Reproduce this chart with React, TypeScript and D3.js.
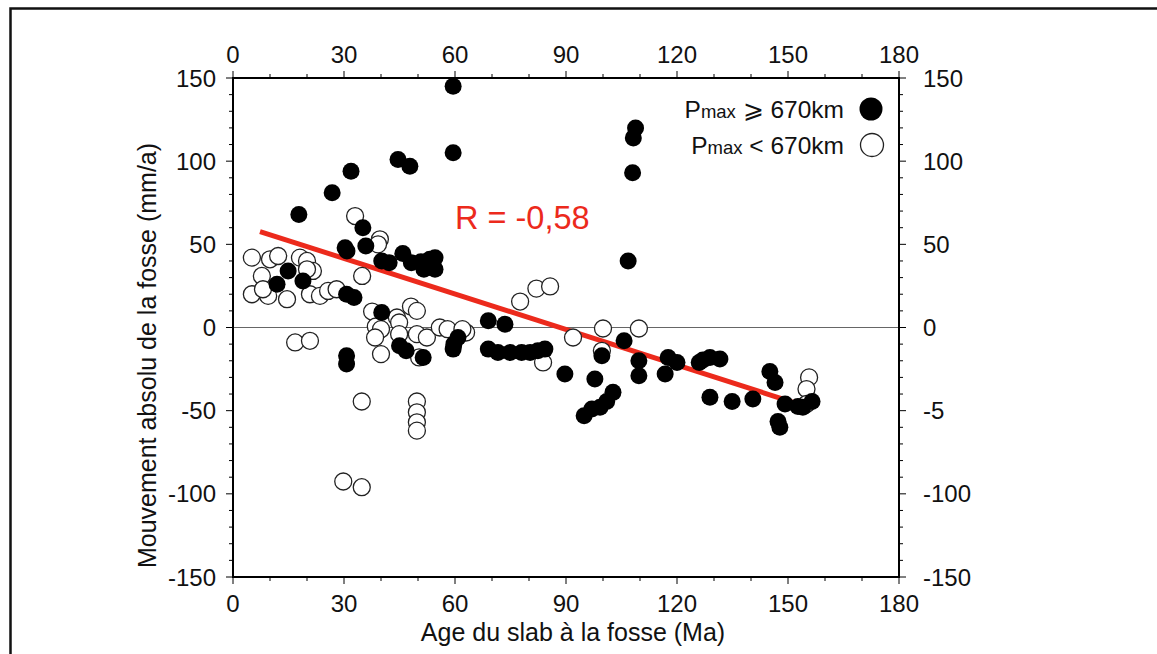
import React from "react";
import * as d3 from "d3";

// Filled circles: Pmax >= 670 km  [age (Ma), absolute trench motion (mm/a)]
const deepAges = [59.5, 59.5, 44.6, 47.8, 31.9, 26.8, 17.8, 35.1, 35.9, 30.3, 30.8, 40.2, 42.2, 45.9, 48.2, 50.8, 53.2, 54.6, 51.6, 54.6, 14.9, 18.9, 11.9, 30.7, 32.7, 40.2, 45, 46.8, 51.4, 30.7, 30.7, 60.8, 59.7, 59.5, 69, 73.5, 69, 71.6, 74.9, 78, 80.3, 82.4, 84.3, 89.7, 99.7, 97.8, 102.7, 101, 99.2, 97, 94.9, 105.7, 109.7, 109.7, 106.8, 108.8, 108.2, 108, 117.6, 120, 116.8, 126, 127, 128.9, 131.6, 128.9, 134.9, 140.5, 145.1, 146.5, 147.3, 147.8, 149.2, 152.7, 156.5, 154];
const deepVel = [145, 105, 101, 97, 94, 81, 68, 60, 49, 48, 46, 40, 39, 44.5, 39, 39.5, 41, 42, 35, 35, 34, 28, 26, 20, 18, 9, -11, -14, -18, -17, -22, -6, -10, -13, 4, 2, -13, -15, -15, -15, -15, -14, -13, -28, -17, -31, -39, -44.5, -48, -49, -53, -8, -20, -29, 40, 120, 114, 93, -18, -21, -28, -21, -19.5, -18, -19, -42, -44.5, -43, -26.5, -33, -56.5, -60, -46, -47.5, -44.5, -48];

// Open circles: Pmax < 670 km
const shallowAges = [5.1, 10, 12.2, 18.1, 20, 21.6, 20, 7.8, 5.1, 9.5, 14.6, 20.8, 23.5, 25.7, 28, 8.1, 34.9, 33, 39.7, 39.2, 37.6, 48.1, 49.7, 44.3, 44.9, 38.6, 40, 38.4, 40, 44.9, 49.7, 52.4, 55.9, 58, 50.3, 16.8, 20.8, 34.8, 49.7, 49.7, 49.7, 49.7, 29.8, 34.8, 63, 62, 77.6, 82, 85.7, 83.8, 91.9, 100, 109.7, 155.7, 155, 155, 99.7];
const shallowVel = [42, 41, 43, 42, 40, 34, 35, 31, 20, 19, 17, 20, 19, 22, 23, 23, 31, 67, 53, 50, 9.6, 12.6, 10, 6, 3, 0.6, -1, -6, -16, -4, -4, -6, 0, -1, -18, -9, -8, -44.5, -44.5, -51, -57, -62, -92.6, -96, -3, -1, 15.6, 23.4, 24.7, -21, -6, -0.6, -0.6, -30, -37, -46, -14];

// Regression line end points
const fitAges = [7.3, 155];
const fitVel = [57.7, -47.5];

const xTicks = [0, 30, 60, 90, 120, 150, 180];
const yTicks = [150, 100, 50, 0, -50, -100, -150];
const yTickLabelsLeft = ["150", "100", "50", "0", "-50", "-100", "-150"];
const yTickLabelsRight = ["150", "100", "50", "0", "-5", "-100", "-150"];

const W = 1157;
const H = 654;
const left = 233;
const right = 899;
const top = 78;
const bottom = 577;
const FONT = "'Liberation Sans', Arial, Helvetica, sans-serif";

export default function App() {
  const x = d3.scaleLinear().domain([0, 180]).range([left, right]);
  const y = d3.scaleLinear().domain([-150, 150]).range([bottom, top]);
  const xMinor = d3.range(0, 181, 10);
  const yMinor = d3.range(-150, 151, 10);
  const line = d3
    .line<number>()
    .x((d, i) => x(fitAges[i]))
    .y((d) => y(d));

  const shallow = shallowAges.map((a, i) => ({ a, v: shallowVel[i] }));
  const deep = deepAges.map((a, i) => ({ a, v: deepVel[i] }));
  const r = 8.5;

  return (
    <svg
      width={W}
      height={H}
      style={{ position: "absolute", left: 0, top: 0, background: "#fff" }}
      fontFamily={FONT}
    >
      <rect x={0} y={0} width={W} height={H} fill="#fff" />
      {/* outer frame */}
      <path d={`M10.5,${H + 5} L10.5,8.5 L${W + 5},8.5`} fill="none" stroke="#111" strokeWidth={2.5} />

      {/* zero line */}
      <line x1={x(0)} x2={x(180)} y1={y(0)} y2={y(0)} stroke="#666" strokeWidth={1.2} />

      {/* regression line */}
      <path d={line(fitVel) || ""} stroke="#ec2a1c" strokeWidth={5} fill="none" />

      {/* points */}
      {shallow.map((p, i) => (
        <circle key={"s" + i} cx={x(p.a)} cy={y(p.v)} r={r} fill="#fff" stroke="#222" strokeWidth={1.3} />
      ))}
      {deep.map((p, i) => (
        <circle key={"d" + i} cx={x(p.a)} cy={y(p.v)} r={r} fill="#000" />
      ))}

      {/* frame */}
      <rect x={left} y={top} width={right - left} height={bottom - top} fill="none" stroke="#000" strokeWidth={2} />

      {/* minor + major ticks */}
      {xMinor.map((t) => {
        const major = t % 30 === 0;
        const len = major ? 7 : 4;
        return (
          <g key={"xt" + t}>
            <line x1={x(t)} x2={x(t)} y1={bottom} y2={bottom + len} stroke="#000" strokeWidth={1} />
            <line x1={x(t)} x2={x(t)} y1={top} y2={top - len} stroke="#000" strokeWidth={1} />
          </g>
        );
      })}
      {yMinor.map((t) => {
        const major = t % 50 === 0;
        const len = major ? 7 : 4;
        return (
          <g key={"yt" + t}>
            <line x1={left} x2={left - len} y1={y(t)} y2={y(t)} stroke="#000" strokeWidth={1} />
            <line x1={right} x2={right + len} y1={y(t)} y2={y(t)} stroke="#000" strokeWidth={1} />
          </g>
        );
      })}

      {/* x tick labels */}
      {xTicks.map((t) => (
        <g key={"xl" + t}>
          <text x={x(t)} y={612} fontSize={24} textAnchor="middle" fill="#111">
            {t}
          </text>
          <text x={x(t)} y={63} fontSize={24} textAnchor="middle" fill="#111">
            {t}
          </text>
        </g>
      ))}
      {/* y tick labels */}
      {yTicks.map((t, i) => (
        <g key={"yl" + t}>
          <text x={216} y={y(t) + 8.5} fontSize={24} textAnchor="end" fill="#111">
            {yTickLabelsLeft[i]}
          </text>
          <text x={923} y={y(t) + 8.5} fontSize={24} textAnchor="start" fill="#111">
            {yTickLabelsRight[i]}
          </text>
        </g>
      ))}

      {/* axis titles */}
      <text x={(left + right) / 2 + 7} y={641} fontSize={25} textAnchor="middle" fill="#111">
        Age du slab à la fosse (Ma)
      </text>
      <text
        transform={`translate(156,${(top + bottom) / 2 + 28}) rotate(-90)`}
        fontSize={25}
        textAnchor="middle"
        fill="#111"
      >
        Mouvement absolu de la fosse (mm/a)
      </text>

      {/* correlation */}
      <text x={455} y={229} fontSize={32.5} fill="#ec2a1c">
        R = -0,58
      </text>

      {/* legend */}
      <text x={844} y={118} fontSize={24.5} textAnchor="end" fill="#111">
        P<tspan fontSize={18.5}>max</tspan> ⩾ 670km
      </text>
      <text x={844} y={154} fontSize={24.5} textAnchor="end" fill="#111">
        P<tspan fontSize={18.5}>max</tspan> &lt; 670km
      </text>
      <circle cx={871} cy={109} r={11.5} fill="#000" />
      <circle cx={872} cy={145} r={11.5} fill="#fff" stroke="#222" strokeWidth={1.3} />
    </svg>
  );
}
